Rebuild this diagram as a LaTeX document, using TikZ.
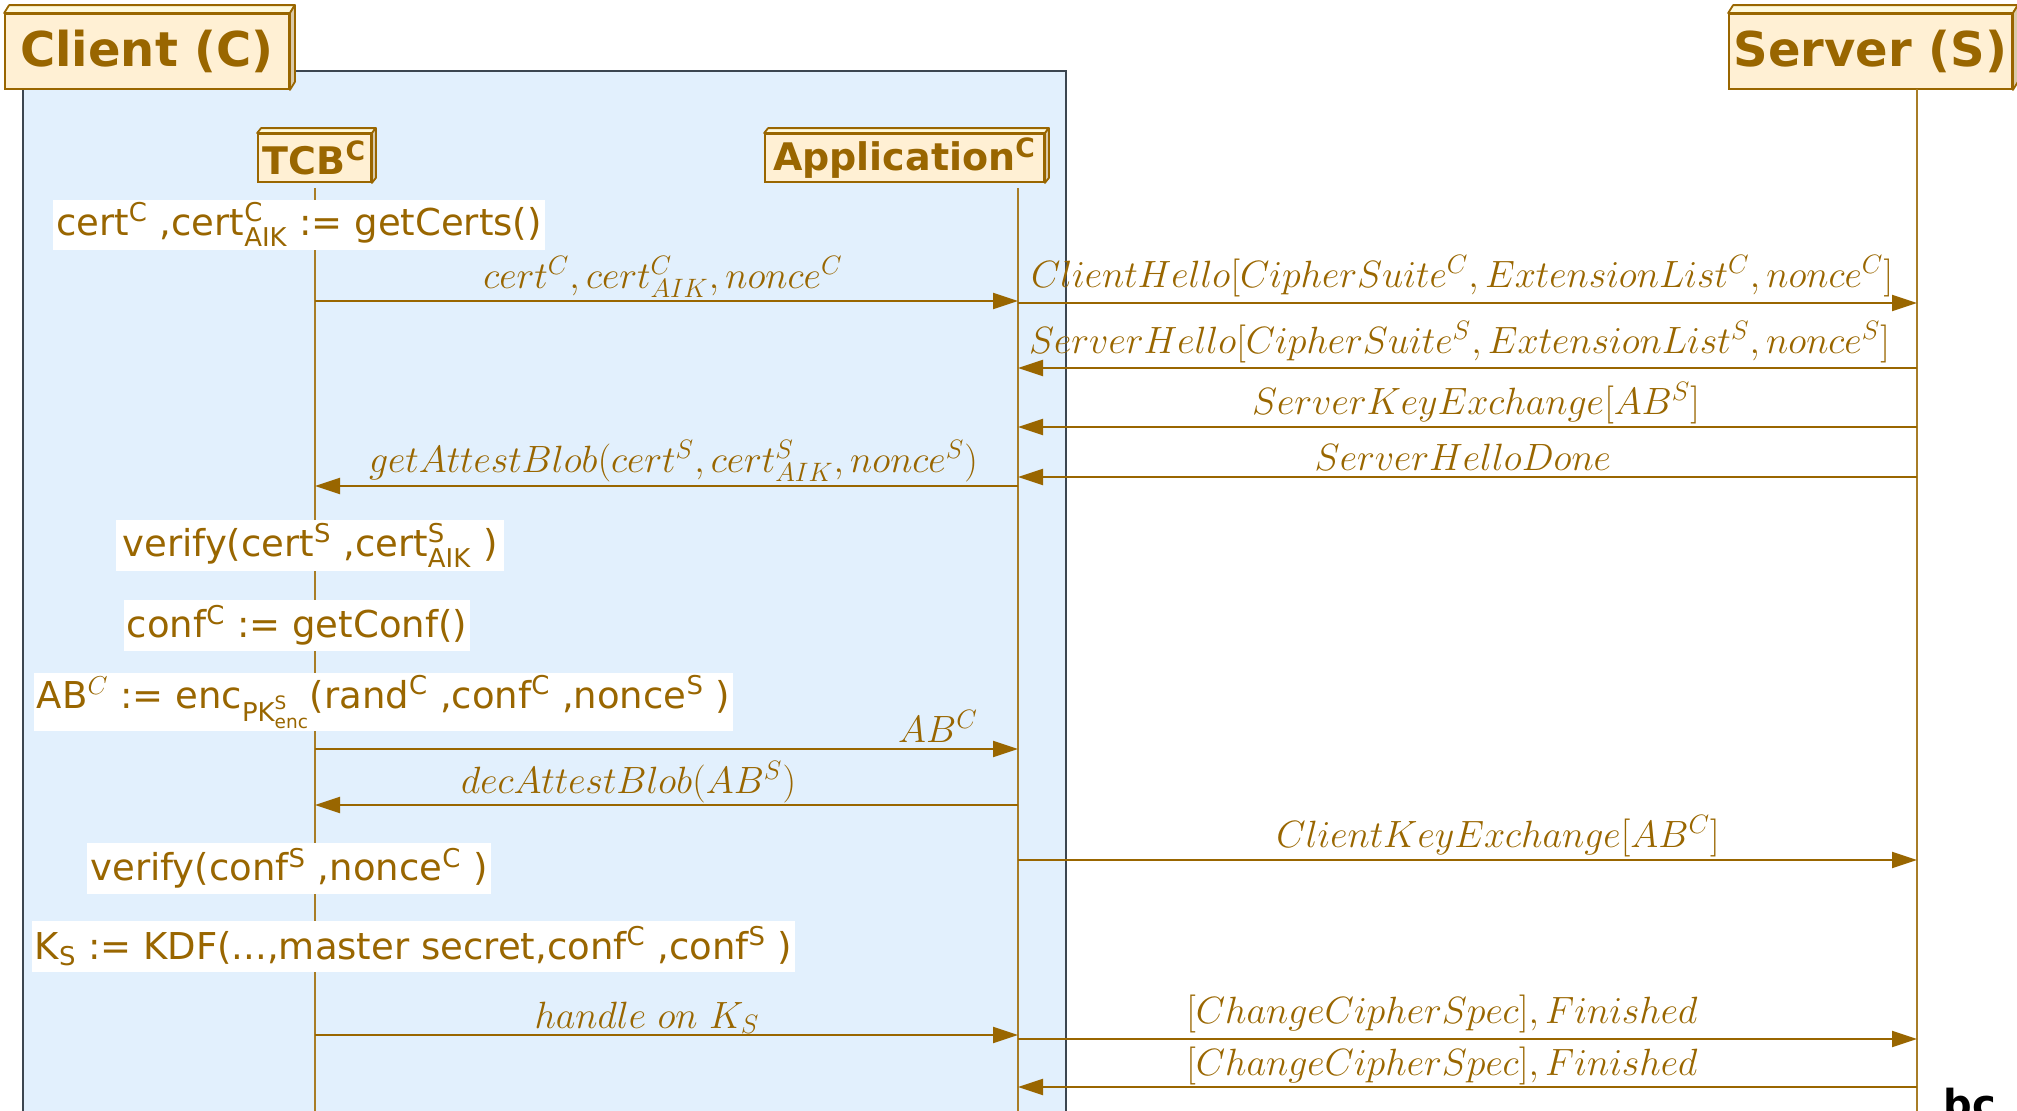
\RequirePackage{fix-cm}
\documentclass[tikz,border=0pt]{standalone}
\usepackage{amsmath}
\usepackage{fontspec}
\newfontfamily\notefont{DejaVu Sans}
\usetikzlibrary{arrows.meta}

\definecolor{ink}{HTML}{996600}
\definecolor{partfill}{HTML}{FFF0D4}
\definecolor{topfill}{HTML}{FFFADC}
\definecolor{sidefill}{HTML}{DACAAA}
\definecolor{groupfill}{HTML}{E2F0FD}
\definecolor{groupline}{HTML}{3C4650}

\tikzset{
	participant/.style={draw=ink, line width=0.9pt, fill=partfill, text=ink, inner sep=0pt,
		font=\notefont\bfseries\fontsize{24pt}{28pt}\selectfont},
	subpart/.style={participant, font=\notefont\bfseries\fontsize{19pt}{22pt}\selectfont},
	lifeline/.style={draw=ink!85, line width=0.6pt},
	note/.style={fill=white, text=ink, inner sep=1.5pt, font=\notefont\fontsize{18.5pt}{22pt}\selectfont},
	msg/.style={draw=ink, line width=1pt, -{Triangle[length=12.5pt,width=8pt]}},
	lbl/.style={text=ink, inner sep=0pt, anchor=base, font=\fontsize{19pt}{23pt}\selectfont},
}

% top and right faces of a participant box
\newcommand\boxfaces[3]{%
	\filldraw[draw=ink, line width=0.9pt, line join=round, fill=topfill]
		(#1.north west) -- ([shift={(#2,-#3)}]#1.north west)
		-- ([shift={(#2,-#3)}]#1.north east) -- (#1.north east) -- cycle;
	\filldraw[draw=ink, line width=0.9pt, line join=round, fill=sidefill]
		(#1.north east) -- ([shift={(#2,-#3)}]#1.north east)
		-- ([shift={(#2,-#3)}]#1.south east) -- (#1.south east) -- cycle;
}

\begin{document}
\begin{tikzpicture}[x=0.5pt, y=-0.5pt]
	
	\useasboundingbox (0,0) rectangle (2017,1110);
	\clip (0,0) rectangle (2017,1110);
	
	% Client group
	\filldraw[draw=groupline, line width=0.6pt, fill=groupfill] (23,71) rectangle (1066,1140);
	
	% Participants
	\node[participant, minimum width=142pt, minimum height=37.5pt] (client) at (147,51.5) {Client (C)};
	\node[participant, minimum width=141.5pt, minimum height=37.5pt] (server) at (1870.5,51.5) {Server (S)};
	\node[subpart, minimum width=56.5pt, minimum height=24pt] (tcb) at (314.5,158) {TCB\textsuperscript{C}};
	\node[subpart, minimum width=139.5pt, minimum height=24pt] (app) at (904.5,158) {Application\textsuperscript{C}};
	
	\foreach \n/\dx/\dy in {client/5/8, server/5/8, tcb/4/5, app/4/5} {
		\boxfaces{\n}{\dx}{\dy}
	}
	
	% Lifelines
	\coordinate (tcb-life) at (315,188);
	\coordinate (app-life) at (1018,188);
	\coordinate (srv-life) at (1917,89);
	\coordinate (bottom) at (0,1140);
	
	\draw[lifeline] (tcb-life) -- (tcb-life |- bottom);
	\draw[lifeline] (app-life) -- (app-life |- bottom);
	\draw[lifeline] (srv-life) -- (srv-life |- bottom);
	
	% Notes over the TCB
	\node[note, minimum width=246pt, minimum height=23pt] (getcerts) at (299,224.5)
		{cert$^{\text{C}}$ ,cert$^{\text{C}}_{\text{AIK}}$ := getCerts()};
	\node[note, minimum width=194pt, minimum height=25.5pt] (verifycert) at (310,545.5)
		{verify(cert$^{\text{S}}$ ,cert$^{\text{S}}_{\text{AIK}}$ )};
	\node[note, minimum width=168pt, minimum height=25.5pt] (getconf) at (297,625.5)
		{conf$^{\text{C}}$ := getConf()};
	\node[note, minimum width=347.5pt, minimum height=29pt] (encblob) at (383.5,702)
		{AB$^{C}$ := enc$_{\text{PK}^{\text{S}}_{\text{enc}}}$(rand$^{\text{C}}$ ,conf$^{\text{C}}$ ,nonce$^{\text{S}}$ )};
	\node[note, minimum width=194pt, minimum height=25.5pt] (verifyconf) at (289,868.5)
		{verify(conf$^{\text{S}}$ ,nonce$^{\text{C}}$ )};
	\node[note, minimum width=375.5pt, minimum height=25.5pt] (kdf) at (413.5,946.5)
		{K$_{\text{S}}$ := KDF(...,master secret,conf$^{\text{C}}$ ,conf$^{\text{S}}$ )};
	
	% Message rows
	\coordinate (r1) at (0,301);
	\coordinate (r2) at (0,303);
	\coordinate (r3) at (0,368);
	\coordinate (r4) at (0,427);
	\coordinate (r5) at (0,477);
	\coordinate (r6) at (0,486);
	\coordinate (r7) at (0,749);
	\coordinate (r8) at (0,805);
	\coordinate (r9) at (0,860);
	\coordinate (r10) at (0,1035);
	\coordinate (r11) at (0,1039);
	\coordinate (r12) at (0,1087);
	
	% Messages
	\draw[msg] (tcb-life |- r1) -- (app-life |- r1);
	\draw[msg] (app-life |- r2) -- (srv-life |- r2);
	\draw[msg] (srv-life |- r3) -- (app-life |- r3);
	\draw[msg] (srv-life |- r4) -- (app-life |- r4);
	\draw[msg] (srv-life |- r5) -- (app-life |- r5);
	\draw[msg] (app-life |- r6) -- (tcb-life |- r6);
	\draw[msg] (tcb-life |- r7) -- (app-life |- r7);
	\draw[msg] (app-life |- r8) -- (tcb-life |- r8);
	\draw[msg] (app-life |- r9) -- (srv-life |- r9);
	\draw[msg] (tcb-life |- r10) -- (app-life |- r10);
	\draw[msg] (app-life |- r11) -- (srv-life |- r11);
	\draw[msg] (srv-life |- r12) -- (app-life |- r12);
	
	% Message labels
	\node[lbl] (certs) at (663,288) {$cert^C, cert^C_{AIK}, nonce^C$};
	\node[lbl] (chello) at (1462,287) {$ClientHello[CipherSuite^C, ExtensionList^C, nonce^C]$};
	\node[lbl] (shello) at (1459.5,353) {$ServerHello[CipherSuite^S, ExtensionList^S, nonce^S]$};
	\node[lbl] (skex) at (1476,414) {$ServerKeyExchange[AB^S]$};
	\node[lbl] (sdone) at (1463,470) {$ServerHelloDone$};
	\node[lbl] (getblob) at (673.5,472) {$getAttestBlob(cert^S, cert^S_{AIK}, nonce^S)$};
	\node[lbl] (blobc) at (938,742) {$AB^C$};
	\node[lbl] (decblob) at (628.5,793) {$decAttestBlob(AB^S)$};
	\node[lbl] (ckex) at (1498,847) {$ClientKeyExchange[AB^C]$};
	\node[lbl] (handle) at (647,1028) {$handle\ on\ K_S$};
	\node[lbl] (cfin) at (1442,1023) {$[ChangeCipherSpec], Finished$};
	\node[lbl] (sfin) at (1442,1075) {$[ChangeCipherSpec], Finished$};
	
	% cut-off text at the lower edge
	\node[anchor=base west, inner sep=0pt, font=\notefont\bfseries\fontsize{20pt}{24pt}\selectfont] (cut) at (1943,1118) {bc};
	
\end{tikzpicture}
\end{document}
